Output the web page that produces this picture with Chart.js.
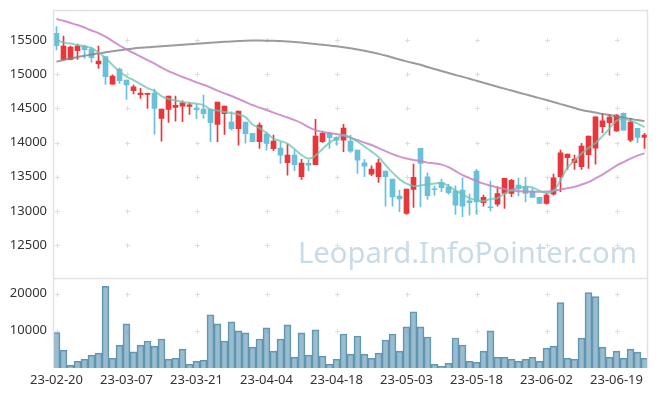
<!DOCTYPE html>
<html><head><meta charset="utf-8">
<script src="https://cdn.jsdelivr.net/npm/chart.js@4/dist/chart.umd.min.js"></script>
<style>html,body{margin:0;padding:0;background:#fff;}canvas{display:block;}</style>
</head><body>
<canvas id="c" width="657" height="396"></canvas>
<script>
const dates = [
"23-02-20","23-02-21","23-02-22","23-02-23","23-02-24","23-02-27","23-02-28",
"23-03-02","23-03-03","23-03-06","23-03-07","23-03-08","23-03-09","23-03-10","23-03-13","23-03-14","23-03-15","23-03-16","23-03-17","23-03-20","23-03-21","23-03-22","23-03-23","23-03-24","23-03-27","23-03-28","23-03-29","23-03-30","23-03-31",
"23-04-03","23-04-04","23-04-05","23-04-06","23-04-07","23-04-10","23-04-11","23-04-12","23-04-13","23-04-14","23-04-17","23-04-18","23-04-19","23-04-20","23-04-21","23-04-24","23-04-25","23-04-26","23-04-27","23-04-28",
"23-05-02","23-05-03","23-05-04","23-05-08","23-05-09","23-05-10","23-05-11","23-05-12","23-05-15","23-05-16","23-05-17","23-05-18","23-05-19","23-05-22","23-05-23","23-05-24","23-05-25","23-05-26","23-05-30","23-05-31",
"23-06-01","23-06-02","23-06-05","23-06-07","23-06-08","23-06-09","23-06-12","23-06-13","23-06-14","23-06-15","23-06-16","23-06-19","23-06-20","23-06-21","23-06-22","23-06-23"];

const opens = [15598,15218,15218,15344,15412,15368,15149,15256,14856,15076,14915,14758,14700,14705,14724,14354,14486,14516,14534,14530,14505,14490,14490,14266,14422,14300,14202,14300,14135,14012,14125,13910,13920,13705,13817,13500,13696,13676,14012,14135,14076,14037,14022,13890,13705,13539,13500,13583,13466,13217,12964,13315,13915,13500,13320,13418,13354,13291,13305,13149,13583,13120,13057,13100,13256,13256,13378,13354,13291,13198,13110,13247,13500,13778,13705,13647,13822,13920,14232,14290,14169,14427,14037,14208,14076];
const highs = [15695,15559,15410,15441,15427,15388,15412,15256,14990,15090,14915,14842,14793,14724,14783,14490,14681,14681,14610,14590,14559,14695,14490,14593,14534,14451,14461,14300,14135,14290,14154,14110,14008,13978,13890,13754,13744,14340,14169,14150,14086,14266,14110,13890,13754,13661,13754,13583,13466,13305,13320,13686,13915,13559,13364,13466,13389,13369,13485,13247,13608,13232,13437,13354,13476,13462,13480,13491,13330,13198,13257,13539,13890,13832,13817,13988,14096,14378,14427,14413,14410,14437,14354,14208,14135];
const lows = [15354,15207,15210,15218,15232,15174,15086,14852,14850,14866,14632,14710,14647,14500,14120,14022,14296,14315,14305,14413,14349,14354,14012,14012,14120,14183,13964,13993,14012,13915,13890,13881,13696,13525,13588,13462,13588,13676,14003,13915,13964,13866,13857,13549,13500,13515,13418,13071,13071,12988,12950,13052,13061,13169,13227,13281,13247,12950,12915,12940,12950,13071,13002,13071,13037,13208,13220,13134,13198,13105,13100,13232,13281,13608,13608,13608,13623,13686,14144,14110,14165,14183,14012,13998,13915];
const closes = [15417,15412,15398,15412,15358,15241,15193,14963,14973,14905,14842,14817,14724,14720,14500,14490,14681,14545,14583,14554,14480,14422,14290,14593,14534,14202,14461,14129,14012,14256,13988,14022,13817,13817,13676,13700,13671,14096,14135,14071,14037,14212,13876,13744,13656,13613,13705,13500,13207,13178,13320,13491,13696,13222,13310,13339,13266,13086,13071,13120,13134,13198,13047,13256,13476,13447,13330,13256,13198,13110,13232,13485,13851,13832,13759,13949,14096,14378,14320,14373,14403,14183,14300,14076,14110];

const volumes = [9500,4800,720,1810,2350,3440,3980,21900,2620,6150,11850,4340,6150,7240,5880,7780,2350,2620,5070,1000,1810,2080,14290,11850,7240,12390,9950,9410,5610,7780,10760,4520,7780,11580,2890,9410,3440,10220,3170,1000,2350,9140,3710,8590,3710,2620,3980,7510,9140,4520,11040,15100,11040,8320,1000,450,1270,8050,6150,1810,1540,4520,9950,2890,2890,2350,1810,2350,2890,1810,5340,5880,17550,2620,2350,8050,20260,19180,5610,2890,4520,2620,5070,4250,2620];

const ma5 = [15500,15463,15449,15427,15408,15383,15317,15237,15134,15039,14966,14915,14856,14798,14754,14681,14637,14615,14593,14578,14571,14549,14483,14468,14446,14432,14410,14373,14264,14212,14139,14059,14022,13985,13905,13817,13766,13810,13905,14000,14059,14110,14073,14015,13942,13868,13788,13671,13561,13466,13400,13364,13374,13386,13400,13412,13364,13298,13247,13188,13159,13144,13173,13188,13254,13305,13334,13354,13342,13298,13261,13290,13451,13634,13737,13839,13920,13993,14095,14205,14322,14344,14322,14278,14227];
const ma20 = [15807,15781,15749,15719,15683,15639,15602,15551,15485,15420,15364,15310,15259,15207,15156,15098,15046,15002,14959,14922,14881,14846,14805,14761,14720,14681,14637,14593,14549,14512,14476,14439,14402,14366,14329,14285,14227,14183,14154,14139,14125,14103,14073,14037,14000,13964,13920,13876,13832,13795,13766,13744,13729,13707,13696,13678,13642,13583,13524,13481,13437,13400,13371,13342,13320,13298,13290,13283,13281,13281,13283,13298,13312,13334,13353,13386,13422,13476,13532,13598,13664,13715,13766,13810,13842];
const ma60 = [15183,15207,15229,15251,15270,15288,15305,15320,15335,15349,15364,15376,15386,15395,15402,15409,15417,15424,15431,15439,15446,15452,15459,15466,15474,15480,15485,15490,15493,15493,15491,15488,15484,15478,15471,15462,15452,15441,15431,15421,15409,15395,15379,15361,15342,15321,15298,15273,15244,15215,15188,15163,15139,15105,15076,15046,15017,14989,14962,14934,14904,14875,14846,14817,14789,14761,14733,14705,14678,14650,14622,14593,14563,14534,14505,14476,14457,14439,14420,14403,14384,14364,14347,14329,14315];

const priceTicks = [12500,13000,13500,14000,14500,15000,15500];
const volumeTicks = [10000,20000];
const watermark = "Leopard.InfoPointer.com";

const UP = '#e8363a', DOWN = '#6ac0d9';
const candleColor = (i) => closes[i] >= opens[i] ? UP : DOWN;

const decor = {
  id: 'decor',
  beforeDatasetsDraw(chart) {
    const {ctx, chartArea: a, scales} = chart;
    const x = scales.x, y = scales.y, v = scales.yVol;
    ctx.save();
    let size = 29;
    ctx.font = size + 'px "Noto Sans"';
    const w = ctx.measureText(watermark).width;
    size = size * 339 / w;
    ctx.font = size.toFixed(2) + 'px "Noto Sans"';
    ctx.fillStyle = '#c9dbe7';
    ctx.textAlign = 'right';
    ctx.textBaseline = 'alphabetic';
    ctx.fillText(watermark, a.right - 11, y.bottom - 15);
    ctx.strokeStyle = '#dedede';
    ctx.lineWidth = 1;
    const xs = [];
    dates.forEach((d, i) => { if (i % 10 === 0) xs.push(Math.round(x.getPixelForValue(i)) + 0.5); });
    const ys = priceTicks.map(t => Math.round(y.getPixelForValue(t)) + 0.5)
      .concat(volumeTicks.map(t => Math.round(v.getPixelForValue(t)) + 0.5));
    ctx.beginPath();
    xs.forEach(px => ys.forEach(py => {
      ctx.moveTo(px - 2.5, py); ctx.lineTo(px + 2.5, py);
      ctx.moveTo(px, py - 2.5); ctx.lineTo(px, py + 2.5);
    }));
    ctx.stroke();
    ctx.restore();
  },
  afterDatasetsDraw(chart) {
    const {ctx, chartArea: a, scales} = chart;
    const y = scales.y;
    ctx.save();
    ctx.strokeStyle = '#e2e2e2';
    ctx.lineWidth = 1.5;
    ctx.beginPath();
    ctx.moveTo(a.left + 0.5, a.top); ctx.lineTo(a.left + 0.5, a.bottom);
    ctx.moveTo(a.left, a.top + 0.5); ctx.lineTo(a.right, a.top + 0.5);
    ctx.moveTo(a.right - 0.5, a.top); ctx.lineTo(a.right - 0.5, a.bottom);
    ctx.moveTo(a.left, Math.round(y.bottom) + 0.5); ctx.lineTo(a.right, Math.round(y.bottom) + 0.5);
    ctx.stroke();
    ctx.restore();
  }
};

const tickFont = {family: '"Noto Sans", sans-serif', size: 13};
const fitY = (s) => { s.width = 53; s.paddingTop = 0; s.paddingBottom = 0; };

new Chart(document.getElementById('c'), {
  data: {
    labels: dates,
    datasets: [
      {type: 'line', label: 'MA5', data: ma5, yAxisID: 'y', borderColor: 'rgba(110,195,175,0.75)', borderWidth: 2, pointRadius: 0, tension: 0.35, order: 0},
      {type: 'line', label: 'MA20', data: ma20, yAxisID: 'y', borderColor: 'rgba(200,130,195,0.85)', borderWidth: 2, pointRadius: 0, tension: 0.35, order: 0},
      {type: 'line', label: 'MA60', data: ma60, yAxisID: 'y', borderColor: 'rgba(130,130,130,0.8)', borderWidth: 2, pointRadius: 0, tension: 0.35, order: 0},
      {type: 'bar', label: 'body', data: opens.map((o, i) => [o, closes[i]]), yAxisID: 'y', grouped: false,
        backgroundColor: opens.map((o, i) => candleColor(i)), barThickness: 5, minBarLength: 1, order: 1},
      {type: 'bar', label: 'wick', data: lows.map((l, i) => [l, highs[i]]), yAxisID: 'y', grouped: false,
        backgroundColor: lows.map((l, i) => candleColor(i)), barThickness: 1, order: 2},
      {type: 'bar', label: 'volume', data: volumes, yAxisID: 'yVol', grouped: false,
        backgroundColor: 'rgba(110,160,186,0.7)', borderColor: 'rgba(70,130,160,0.85)', borderWidth: 1,
        barPercentage: 1, categoryPercentage: 1, order: 3}
    ]
  },
  options: {
    responsive: false,
    animation: false,
    devicePixelRatio: 1,
    layout: {padding: {top: 10, right: 9, left: 0, bottom: 0}},
    plugins: {legend: {display: false}, tooltip: {enabled: false}},
    scales: {
      x: {
        type: 'category', offset: true,
        grid: {display: false, drawTicks: false}, border: {display: false},
        ticks: {autoSkip: false, maxRotation: 0, minRotation: 0, padding: 4, color: '#333', font: tickFont,
          callback: (v, i) => (i % 10 === 0 ? dates[i] : '')},
        afterFit: (s) => { s.height = 28; }
      },
      yVol: {
        type: 'linear', position: 'left', stack: 'panels', stackWeight: 90.5,
        min: 0, max: 24300,
        grid: {display: false, drawTicks: false}, border: {display: false},
        ticks: {padding: 6, color: '#333', font: tickFont, callback: (v) => v},
        afterBuildTicks: (s) => { s.ticks = volumeTicks.map(v => ({value: v})); },
        afterFit: fitY
      },
      y: {
        type: 'linear', position: 'left', stack: 'panels', stackWeight: 267.5,
        min: 12027, max: 15939,
        grid: {display: false, drawTicks: false}, border: {display: false},
        ticks: {padding: 6, color: '#333', font: tickFont, callback: (v) => v},
        afterBuildTicks: (s) => { s.ticks = priceTicks.map(v => ({value: v})); },
        afterFit: fitY
      }
    }
  },
  plugins: [decor]
});
</script>
</body></html>
